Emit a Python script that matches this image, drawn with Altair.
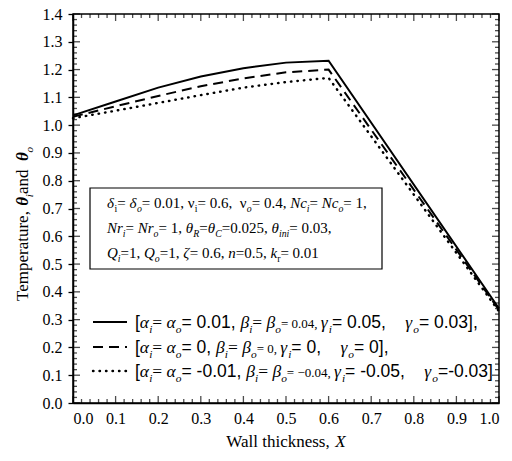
import altair as alt
import pandas as pd

# ---------------- data ----------------
X_VALUES = [0.0, 0.1, 0.2, 0.3, 0.4, 0.5, 0.6, 1.0]
SOLID = [1.035, 1.085, 1.135, 1.175, 1.205, 1.225, 1.232, 0.34]
DASHED = [1.03, 1.068, 1.105, 1.14, 1.168, 1.19, 1.20, 0.335]
DOTTED = [1.025, 1.052, 1.08, 1.108, 1.135, 1.155, 1.17, 0.33]

X_TICKS = [0.0, 0.1, 0.2, 0.3, 0.4, 0.5, 0.6, 0.7, 0.8, 0.9, 1.0]
Y_TICKS = [0.0, 0.1, 0.2, 0.3, 0.4, 0.5, 0.6, 0.7, 0.8, 0.9, 1.0, 1.1, 1.2, 1.3, 1.4]
X_MINOR = [round(a + k * 0.02, 2) for a in X_TICKS[:-1] for k in range(1, 5)]
Y_MINOR = [round(a + k * 0.02, 2) for a in Y_TICKS[:-1] for k in range(1, 5)]

# ---------------- layout constants (page pixels) ----------------
LEFT, TOP = 73, 14
W, H = 426, 389

SERIF = "Liberation Serif"
SANS = "Liberation Sans"

W_SERIF = {" ": .25, ",": .25, ".": .25, "=": .564, "[": .333, "]": .333, "-": .333,
           "\u2212": .564, "N": .722, "Q": .722, "c": .444, "n": .5, "k": .5, "r": .333,
           "i": .278, "o": .5, "R": .667, "C": .667, "T": .611, "e": .444, "m": .778,
           "p": .5, "a": .444, "t": .278, "u": .5, "d": .5, "W": .944, "l": .278,
           "h": .5, "s": .389, "X": .722,
           "\u03b1": .53, "\u03b2": .5, "\u03b3": .45, "\u03b4": .5, "\u03b8": .5,
           "\u03bd": .47, "\u03b6": .44}
W_SERIF_I = dict(W_SERIF)
W_SERIF_I.update({"N": .667, "k": .444, "r": .389, "R": .611, "X": .611})
W_SANS = {" ": .278, ",": .278, ".": .278, "=": .584, "-": .333, "[": .278, "]": .278}

# code -> (family, italic, bold, subscript)
STY = {
    "r": (SERIF, False, False, False),
    "i": (SERIF, True, False, False),
    "bi": (SERIF, True, True, False),
    "sr": (SERIF, False, False, True),
    "si": (SERIF, True, False, True),
    "a": (SANS, False, False, False),
}


def width(txt, fam, italic):
    if fam == SANS:
        return sum(W_SANS.get(ch, .556) for ch in txt)
    tab = W_SERIF_I if italic else W_SERIF
    return sum(tab.get(ch, .5) for ch in txt)


def layout(segs, x0, y0, size, rot=False, center=False):
    rows = []
    pos = 0.0
    items = []
    for seg in segs:
        txt, code = seg[0], seg[1]
        fs = seg[2] if len(seg) > 2 else size
        fam, italic, bold, sub = STY[code]
        if sub:
            fs = round(size * 0.65, 1)
        shift = size * 0.28 if sub else 0.0
        items.append((txt, fam, italic, bold, fs, shift, pos))
        pos += width(txt, fam, italic) * fs
    off = pos / 2 if center else 0.0
    for txt, fam, italic, bold, fs, shift, p in items:
        if rot:
            px, py, ang = x0 + shift, y0 + off - p, 270
        else:
            px, py, ang = x0 - off + p, y0 + shift, 0
        rows.append(dict(px=px - LEFT, py=py - TOP, text=txt, font=fam,
                         italic=italic, bold=bold, fs=fs, ang=ang))
    return rows


G = {"a": "\u03b1", "b": "\u03b2", "g": "\u03b3", "d": "\u03b4", "t": "\u03b8",
     "n": "\u03bd", "z": "\u03b6"}

BOX_LINES = [
    [(G["d"], "i"), ("i", "sr"), ("= ", "r"), (G["d"], "i"), ("o", "si"), ("= 0.01, ", "r"),
     (G["n"], "r"), ("i", "sr"), ("= 0.6,  ", "r"), (G["n"], "r"), ("o", "si"), ("= 0.4, ", "r"),
     ("Nc", "i"), ("i", "si"), ("= ", "r"), ("Nc", "i"), ("o", "si"), ("= 1,", "r")],
    [("Nr", "i"), ("i", "si"), ("= ", "r"), ("Nr", "i"), ("o", "si"), ("= 1, ", "r"),
     (G["t"], "i"), ("R", "si"), ("=", "r"), (G["t"], "i"), ("C", "si"), ("=0.025, ", "r"),
     (G["t"], "i"), ("ini", "si"), ("= 0.03,", "r")],
    [("Q", "i"), ("i", "si"), ("=1, ", "r"), ("Q", "i"), ("o", "si"), ("=1, ", "r"),
     (G["z"], "i"), ("= 0.6, ", "r"), ("n", "i"), ("=0.5, ", "r"), ("k", "i"), ("r", "sr"),
     ("= 0.01", "r")],
]
BOX_BASELINES = [208, 233, 258]

LEG_VALS = [("= 0.01, ", "= 0.04, ", " = 0.05,   ", "= 0.03],"),
            ("= 0, ", "= 0, ", " = 0,   ", "= 0],"),
            ("= -0.01, ", "= \u22120.04, ", " = -0.05,   ", "=-0.03]")]
LEG_CENTERS = [322, 347, 371]
LEG_DASH = [[1, 0], [10, 6], [0.5, 6]]


def legend_line(v):
    return [("[", "a"), (G["a"], "i"), ("i", "si"), ("= ", "r"), (G["a"], "i"), ("o", "si"),
            (v[0], "a"), (G["b"], "i"), ("i", "si"), ("= ", "r"), (G["b"], "i"), ("o", "si"),
            (v[1], "r", 13), (G["g"], "i"), ("i", "si"), (v[2], "a"), (G["g"], "i"),
            ("o", "si"), (v[3], "a")]


rows = []
for segs, yb in zip(BOX_LINES, BOX_BASELINES):
    rows += layout(segs, 107, yb, 15)
for v, yc in zip(LEG_VALS, LEG_CENTERS):
    rows += layout(legend_line(v), 135, yc + 6, 17.5)
rows += layout([("Wall thickness, ", "r"), ("X", "i")], LEFT + W / 2, 447, 17, center=True)
rows += layout([("Temperature, ", "r"), (G["t"], "bi"), ("i", "si"), (" and ", "r"),
                (G["t"], "bi"), ("o", "si")], 28, 224, 17, rot=True, center=True)
txt = pd.DataFrame(rows)

# ---------------- chart ----------------
xs = alt.Scale(domain=[0, 1], nice=False, zero=False)
ys = alt.Scale(domain=[0, 1.4], nice=False, zero=False)
xaxis = alt.Axis(values=X_TICKS, format=".1f", ticks=False, labelPadding=7, title=None,
                 grid=False, labelFontSize=16, labelFont=SERIF, labelColor="black",
                 domainColor="black", domainWidth=1.5)
yaxis = alt.Axis(values=Y_TICKS, format=".1f", tickSize=5, tickWidth=1.3, tickColor="black",
                 labelPadding=6, title=None, grid=False, labelFontSize=16, labelFont=SERIF,
                 labelColor="black", domainColor="black", domainWidth=1.5)

lines_df = pd.DataFrame({"x": X_VALUES * 3,
                         "y": SOLID + DASHED + DOTTED,
                         "s": ["solid"] * 8 + ["dashed"] * 8 + ["dotted"] * 8})


def XQ(f):
    return alt.X(f, type="quantitative", scale=xs, axis=xaxis)


def YQ(f):
    return alt.Y(f, type="quantitative", scale=ys, axis=yaxis)


base = alt.Chart(lines_df)
solid = base.transform_filter(alt.datum.s == "solid").mark_line(
    color="black", strokeWidth=2).encode(x=XQ("x"), y=YQ("y"))
dashed = base.transform_filter(alt.datum.s == "dashed").mark_line(
    color="black", strokeWidth=2, strokeDash=LEG_DASH[1]).encode(x=XQ("x"), y=YQ("y"))
dotted = base.transform_filter(alt.datum.s == "dotted").mark_line(
    color="black", strokeWidth=2.4, strokeDash=LEG_DASH[2], strokeCap="round").encode(
    x=XQ("x"), y=YQ("y"))


# inward ticks
def tick_layer(vals, horizontal, at, size, sign):
    df = pd.DataFrame({"v": vals, "at": [at] * len(vals)})
    if not horizontal:
        m = alt.Chart(df).mark_tick(orient="vertical", size=size, thickness=1.3, color="black",
                                    yOffset=sign * size / 2)
        return m.encode(x=XQ("v"), y=YQ("at"))
    m = alt.Chart(df).mark_tick(orient="horizontal", size=size, thickness=1.3, color="black",
                                xOffset=sign * size / 2)
    return m.encode(y=YQ("v"), x=XQ("at"))


ticks = [
    tick_layer(X_TICKS, False, 0, 7, -1), tick_layer(X_MINOR, False, 0, 4, -1),
    tick_layer(X_TICKS, False, 1.4, 7, 1), tick_layer(X_MINOR, False, 1.4, 4, 1),
    tick_layer(Y_TICKS, True, 0, 7, 1), tick_layer(Y_MINOR, True, 0, 4, 1),
    tick_layer(Y_TICKS, True, 1, 7, -1), tick_layer(Y_MINOR, True, 1, 4, -1),
]

box = alt.Chart(pd.DataFrame({"k": [0]})).mark_rect(
    fill="white", stroke="black", strokeWidth=1.2).encode(
    x=alt.value(90 - LEFT), x2=alt.value(382 - LEFT),
    y=alt.value(188 - TOP), y2=alt.value(269 - TOP))

leg_df = pd.DataFrame({"yc": [c - TOP for c in LEG_CENTERS], "s": ["solid", "dashed", "dotted"]})
leg_layers = []
for i, s in enumerate(["solid", "dashed", "dotted"]):
    kw = dict(color="black", strokeWidth=2.4 if s == "dotted" else 2)
    if s != "solid":
        kw["strokeDash"] = LEG_DASH[i]
    if s == "dotted":
        kw["strokeCap"] = "round"
    leg_layers.append(
        alt.Chart(leg_df).transform_filter(alt.datum.s == s).mark_rule(**kw).encode(
            y=alt.Y("yc:Q", scale=None, axis=None),
            x=alt.value(93 - LEFT), x2=alt.value(127 - LEFT)))

text_layers = []
for key, grp in txt.groupby(["font", "italic", "bold", "fs", "ang"]):
    fam, italic, bold, fs, ang = key
    kw = dict(font=fam, fontSize=float(fs), align="left", baseline="alphabetic",
              color="black", angle=int(ang))
    if italic:
        kw["fontStyle"] = "italic"
    if bold:
        kw["fontWeight"] = "bold"
    text_layers.append(
        alt.Chart(grp.reset_index(drop=True)).mark_text(**kw).encode(
            x=alt.X("px:Q", scale=None, axis=None),
            y=alt.Y("py:Q", scale=None, axis=None),
            text="text:N"))

chart = alt.layer(solid, dashed, dotted, *ticks, box, *leg_layers, *text_layers).properties(
    width=W, height=H, autosize="none", background="white",
    padding={"left": LEFT - 8, "top": TOP - 8, "right": 512 - 8 - LEFT - W,
             "bottom": 461 - 8 - TOP - H}
).configure_view(stroke="black", strokeWidth=1.5).configure_axis(
    labelFont=SERIF, labelFontSize=16, labelColor="black"
)

chart.save("out.html", embed_options={"renderer": "svg", "actions": False})
